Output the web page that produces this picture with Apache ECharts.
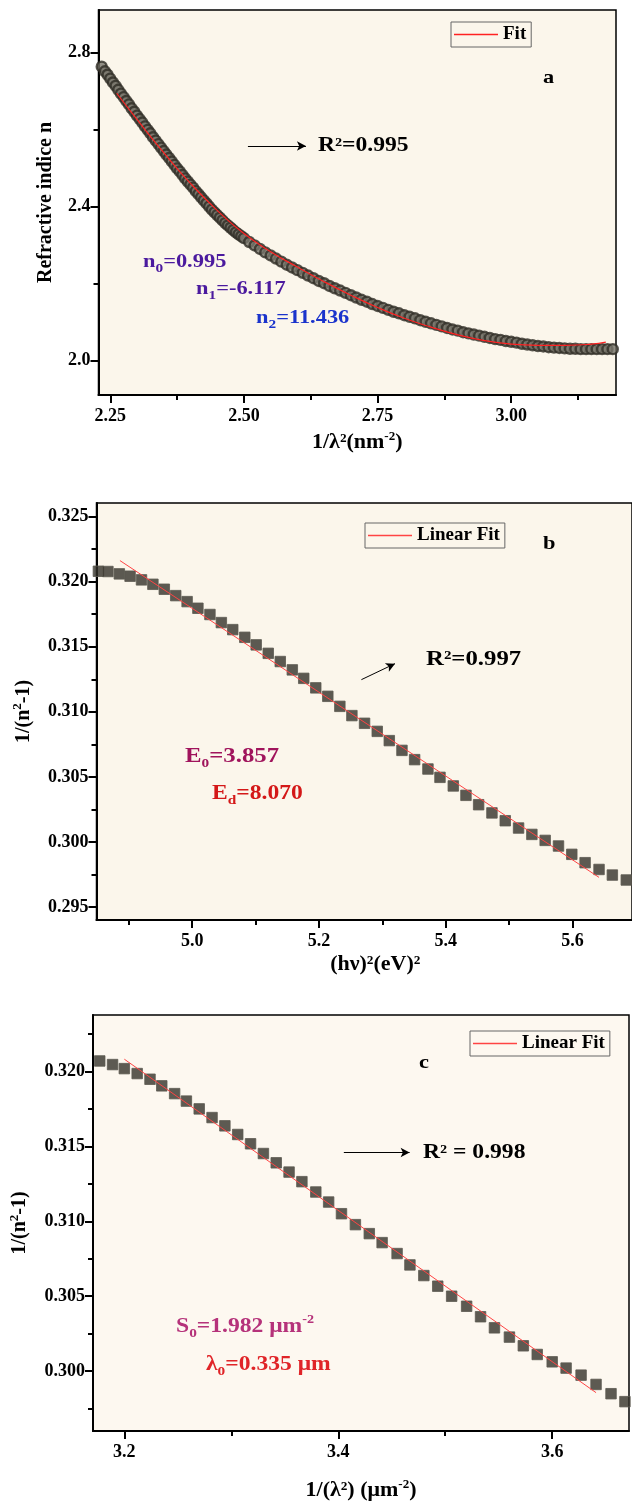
<!DOCTYPE html>
<html>
<head>
<meta charset="UTF-8">
<title>Refractive index dispersion</title>
<script src="https://cdn.jsdelivr.net/npm/echarts@6/dist/echarts.min.js"></script>
<style>
  body { margin: 0; background: #fff; }
  #chart { width: 632px; height: 1502px; }
</style>
</head>
<body>
<div id="chart"></div>
<script>
// panel a: n against 1/lambda^2
var aX = [2.234, 2.24, 2.245, 2.25, 2.255, 2.26, 2.265, 2.27, 2.275, 2.28, 2.285, 2.29, 2.295, 2.30, 2.305, 2.31,
  2.315, 2.32, 2.325, 2.33, 2.335, 2.34, 2.345, 2.35, 2.355, 2.36, 2.365, 2.37, 2.375, 2.38, 2.385, 2.39, 2.395,
  2.40, 2.405, 2.41, 2.415, 2.42, 2.425, 2.43, 2.435, 2.44, 2.445, 2.45, 2.455, 2.46, 2.465, 2.47, 2.475, 2.48,
  2.485, 2.49, 2.495, 2.50, 2.51, 2.52, 2.53, 2.54, 2.55, 2.56, 2.57, 2.58, 2.59, 2.60, 2.61, 2.62, 2.63, 2.64,
  2.65, 2.66, 2.67, 2.68, 2.69, 2.70, 2.71, 2.72, 2.73, 2.74, 2.75, 2.76, 2.77, 2.78, 2.79, 2.80, 2.81, 2.82,
  2.83, 2.84, 2.85, 2.86, 2.87, 2.88, 2.89, 2.90, 2.91, 2.92, 2.93, 2.94, 2.95, 2.96, 2.97, 2.98, 2.99, 3.00,
  3.01, 3.02, 3.03, 3.04, 3.05, 3.06, 3.07, 3.08, 3.09, 3.10, 3.11, 3.12, 3.13, 3.14, 3.15, 3.16, 3.17, 3.18, 3.19];
var aN = [2.763, 2.751, 2.742, 2.732, 2.722, 2.713, 2.703, 2.693, 2.684, 2.674, 2.665, 2.655, 2.646, 2.636, 2.627, 2.618,
  2.608, 2.599, 2.590, 2.580, 2.571, 2.562, 2.553, 2.544, 2.535, 2.526, 2.517, 2.508, 2.499, 2.491, 2.482, 2.473, 2.465,
  2.457, 2.449, 2.440, 2.432, 2.424, 2.416, 2.408, 2.400, 2.392, 2.385, 2.378, 2.371, 2.364, 2.357, 2.351, 2.345, 2.339,
  2.333, 2.328, 2.323, 2.318, 2.308, 2.299, 2.290, 2.281, 2.273, 2.265, 2.257, 2.249, 2.242, 2.235, 2.228, 2.221, 2.214, 2.207,
  2.201, 2.194, 2.188, 2.182, 2.176, 2.170, 2.164, 2.158, 2.153, 2.147, 2.142, 2.137, 2.132, 2.127, 2.123, 2.118, 2.114, 2.110,
  2.105, 2.101, 2.097, 2.093, 2.089, 2.085, 2.081, 2.078, 2.074, 2.071, 2.068, 2.065, 2.062, 2.059, 2.056, 2.054, 2.051, 2.049,
  2.047, 2.044, 2.042, 2.040, 2.038, 2.037, 2.035, 2.034, 2.033, 2.032, 2.031, 2.031, 2.030, 2.030, 2.030, 2.030, 2.030, 2.030, 2.030];
var aFitX = [2.262, 2.30, 2.35, 2.40, 2.45, 2.50, 2.55, 2.60, 2.65, 2.70, 2.75, 2.80, 2.85, 2.90, 2.95, 3.00, 3.05, 3.10, 3.15, 3.177];
var aFitN = [2.694, 2.626, 2.540, 2.460, 2.390, 2.330, 2.283, 2.243, 2.205, 2.170, 2.138, 2.110, 2.087, 2.067, 2.052, 2.043, 2.040, 2.040, 2.043, 2.048];
var aXTicks = [2.25, 2.50, 2.75, 3.00];
var aXMinor = [2.375, 2.625, 2.875, 3.125];
var aYTicks = [2.0, 2.4, 2.8];
var aYMinor = [2.2, 2.6];

// panel b: 1/(n^2-1) against (h nu)^2
var bX = [4.852, 4.867, 4.885, 4.902, 4.920, 4.938, 4.956, 4.974, 4.992, 5.009, 5.028, 5.046, 5.064, 5.083, 5.101,
  5.120, 5.139, 5.158, 5.176, 5.195, 5.214, 5.233, 5.252, 5.272, 5.292, 5.311, 5.331, 5.351, 5.372, 5.391,
  5.412, 5.432, 5.452, 5.473, 5.494, 5.515, 5.536, 5.557, 5.578, 5.599, 5.620, 5.642, 5.663, 5.685];
var bY = [0.32079, 0.32077, 0.32059, 0.32041, 0.32013, 0.31979, 0.31941, 0.31892, 0.31846, 0.31795, 0.31747, 0.31685, 0.31631, 0.31572, 0.31514,
  0.31449, 0.31386, 0.31322, 0.31257, 0.31184, 0.31119, 0.31042, 0.30971, 0.30912, 0.30850, 0.30779, 0.30704, 0.30633, 0.30561, 0.30497,
  0.30431, 0.30359, 0.30287, 0.30224, 0.30164, 0.30108, 0.30059, 0.30013, 0.29970, 0.29906, 0.29842, 0.29790, 0.29747, 0.29709];
var bFitX = [4.886, 5.642];
var bFitY = [0.32161, 0.29729];
var bXTicks = [5.0, 5.2, 5.4, 5.6];
var bXMinor = [4.9, 5.1, 5.3, 5.5];
var bYTicks = [0.295, 0.300, 0.305, 0.310, 0.315, 0.320, 0.325];
var bYMinor = [0.2975, 0.3025, 0.3075, 0.3125, 0.3175, 0.3225];

// panel c: 1/(n^2-1) against 1/lambda^2
var cX = [3.177, 3.189, 3.200, 3.212, 3.224, 3.235, 3.247, 3.258, 3.270, 3.282, 3.294, 3.306, 3.318, 3.330, 3.342,
  3.354, 3.366, 3.379, 3.391, 3.403, 3.416, 3.429, 3.441, 3.455, 3.467, 3.480, 3.493, 3.506, 3.520, 3.533,
  3.546, 3.560, 3.573, 3.586, 3.600, 3.613, 3.627, 3.641, 3.655, 3.668];
var cY = [0.32071, 0.32047, 0.32020, 0.31987, 0.31949, 0.31905, 0.31853, 0.31803, 0.31751, 0.31693, 0.31638, 0.31580, 0.31518, 0.31453, 0.31391,
  0.31329, 0.31265, 0.31196, 0.31129, 0.31051, 0.30978, 0.30918, 0.30858, 0.30785, 0.30709, 0.30638, 0.30567, 0.30500, 0.30433, 0.30363,
  0.30289, 0.30227, 0.30169, 0.30111, 0.30062, 0.30020, 0.29973, 0.29911, 0.29849, 0.29796];
var cFitX = [3.200, 3.641];
var cFitY = [0.32083, 0.29856];
var cXTicks = [3.2, 3.4, 3.6];
var cXMinor = [3.3, 3.5];
var cYTicks = [0.300, 0.305, 0.310, 0.315, 0.320];
var cYMinor = [0.2975, 0.3025, 0.3075, 0.3125, 0.3175, 0.3225];

var FONT = "'Liberation Serif', 'Times New Roman', serif";
var chart = echarts.init(document.getElementById('chart'));

function pairs(xs, ys) {
  return xs.map(function (x, i) { return [x, ys[i]]; });
}

// main axis with labels + major ticks, and a bare one for minor ticks
function mainAxis(dim, grid, min, max, ticks, digits, name, gap, extra) {
  var ax = {
    type: 'value', gridIndex: grid, min: min, max: max,
    position: dim === 'x' ? 'bottom' : 'left',
    axisLine: { show: true, onZero: false, lineStyle: { color: '#000', width: 2 } },
    axisTick: { show: true, customValues: ticks, length: 8, lineStyle: { color: '#000', width: 2 } },
    axisLabel: {
      show: true, customValues: ticks, margin: dim === 'x' ? 12 : 8, color: '#000',
      fontFamily: FONT, fontWeight: 'bold', fontSize: 18,
      formatter: function (v) { return v.toFixed(digits); }
    },
    splitLine: { show: false },
    name: name, nameLocation: 'middle', nameGap: gap,
    nameTextStyle: {
      color: '#000', fontFamily: FONT, fontWeight: 'bold', fontSize: dim === 'x' ? 22 : 20,
      rich: {
        t: { fontFamily: FONT, fontWeight: 'bold', fontSize: dim === 'x' ? 22 : 20, color: '#000' },
        p: { fontFamily: FONT, fontWeight: 'bold', fontSize: 13, color: '#000', verticalAlign: 'top', lineHeight: 24 }
      }
    }
  };
  if (dim === 'y') ax.nameRotate = 90;
  if (extra) Object.assign(ax.nameTextStyle, extra);
  return ax;
}
function minorAxis(dim, grid, min, max, ticks) {
  return {
    type: 'value', gridIndex: grid, min: min, max: max,
    position: dim === 'x' ? 'bottom' : 'left',
    axisLine: { show: false, onZero: false },
    axisTick: { show: true, customValues: ticks, length: 5, lineStyle: { color: '#000', width: 2 } },
    axisLabel: { show: false },
    splitLine: { show: false }
  };
}

var labelStyle = function (color, size) {
  return {
    n: { fontFamily: FONT, fontWeight: 'bold', fontSize: size, fill: color, verticalAlign: 'middle', lineHeight: 26 },
    s: { fontFamily: FONT, fontWeight: 'bold', fontSize: 13, fill: color, verticalAlign: 'bottom', lineHeight: 14 },
    p: { fontFamily: FONT, fontWeight: 'bold', fontSize: 12, fill: color, verticalAlign: 'top', lineHeight: 14 }
  };
};
// the reference lettering is drawn wide, hence the horizontal stretch
function note(x, y, text, color, size, sx) {
  return {
    type: 'text', x: x, y: y, z: 50, scaleX: sx || 1.18,
    style: { text: text, fill: color, verticalAlign: 'middle', rich: labelStyle(color, size || 20) }
  };
}

var scatterSquare = {
  color: '#34322a', borderColor: '#5c5a51', borderWidth: 1
};
var legendBase = {
  padding: [3, 5, 3, 3], itemWidth: 44, itemHeight: 1.5, icon: 'rect',
  borderColor: '#666', borderWidth: 1, selectedMode: false,
  textStyle: { fontFamily: FONT, fontWeight: 'bold', fontSize: 19, color: '#000' }
};

var option = {
  animation: false,
  grid: [
    { left: 98.5, top: 10, width: 517.5, height: 385, show: true, backgroundColor: '#fbf6eb', borderColor: '#000', borderWidth: 1.5 },
    { left: 96.5, top: 503, width: 535.5, height: 417, show: true, backgroundColor: '#fbf6eb', borderColor: '#000', borderWidth: 1.5 },
    { left: 91.5, top: 1015, width: 537.5, height: 417, show: true, backgroundColor: '#fdf8f0', borderColor: '#000', borderWidth: 1.5 }
  ],
  xAxis: [
    mainAxis('x', 0, 2.228, 3.196, aXTicks, 2, '{t|1/λ²(nm}{p|-2}{t|)}', 35),
    minorAxis('x', 0, 2.228, 3.196, aXMinor),
    mainAxis('x', 1, 4.849, 5.694, bXTicks, 1, '(hν)²(eV)²', 33, { padding: [0, 0, 0, 22] }),
    minorAxis('x', 1, 4.849, 5.694, bXMinor),
    mainAxis('x', 2, 3.1707, 3.6718, cXTicks, 1, '{t|1/(λ²) (μm}{p|-2}{t|)}', 47),
    minorAxis('x', 2, 3.1707, 3.6718, cXMinor)
  ],
  yAxis: [
    mainAxis('y', 0, 1.911, 2.91, aYTicks, 1, 'Refractive indice n', 43),
    minorAxis('y', 0, 1.911, 2.91, aYMinor),
    mainAxis('y', 1, 0.29402, 0.32603, bYTicks, 3, '{t|1/(n}{p|2}{t|-1)}', 61),
    minorAxis('y', 1, 0.29402, 0.32603, bYMinor),
    mainAxis('y', 2, 0.2960, 0.32378, cYTicks, 3, '{t|1/(n}{p|2}{t|-1)}', 61),
    minorAxis('y', 2, 0.2960, 0.32378, cYMinor)
  ],
  legend: [
    Object.assign({ left: 451, top: 22, data: ['Fit'] }, legendBase),
    Object.assign({ left: 365, top: 523, data: ['Linear Fit'] }, legendBase),
    Object.assign({ left: 470, top: 1031, data: ['Linear Fit'] }, legendBase)
  ],
  series: [
    {
      name: 'n', type: 'scatter', xAxisIndex: 0, yAxisIndex: 0,
      data: pairs(aX, aN), symbol: 'circle', symbolSize: 10,
      itemStyle: { color: '#77746a', borderColor: '#2f2d26', borderWidth: 2.4 },
      markLine: {
        silent: true, symbol: ['none', 'arrow'], symbolSize: [7, 9], label: { show: false },
        lineStyle: { color: '#000', width: 1, type: 'solid' },
        data: [[{ coord: [2.5075, 2.557] }, { coord: [2.616, 2.557] }]]
      }
    },
    {
      name: 'Fit', type: 'line', xAxisIndex: 0, yAxisIndex: 0, data: pairs(aFitX, aFitN),
      symbol: 'none', smooth: true, lineStyle: { color: '#f22', width: 1.2 }, itemStyle: { color: '#f22' }, z: 5
    },
    {
      name: 'b data', type: 'scatter', xAxisIndex: 2, yAxisIndex: 2,
      data: pairs(bX, bY), symbol: 'rect', symbolSize: 10.5, itemStyle: scatterSquare,
      markLine: {
        silent: true, symbol: ['none', 'arrow'], symbolSize: [7, 9], label: { show: false },
        lineStyle: { color: '#000', width: 1, type: 'solid' },
        data: [[{ coord: [5.267, 0.31247] }, { coord: [5.320, 0.31370] }]]
      }
    },
    {
      name: 'Linear Fit', type: 'line', xAxisIndex: 2, yAxisIndex: 2, data: pairs(bFitX, bFitY),
      symbol: 'none', lineStyle: { color: '#f44', width: 1 }, itemStyle: { color: '#f44' }, z: 5
    },
    {
      name: 'c data', type: 'scatter', xAxisIndex: 4, yAxisIndex: 4,
      data: pairs(cX, cY), symbol: 'rect', symbolSize: 10.5, itemStyle: scatterSquare,
      markLine: {
        silent: true, symbol: ['none', 'arrow'], symbolSize: [7, 9], label: { show: false },
        lineStyle: { color: '#000', width: 1, type: 'solid' },
        data: [[{ coord: [3.4052, 0.3146] }, { coord: [3.4667, 0.3146] }]]
      }
    },
    {
      name: 'Linear Fit', type: 'line', xAxisIndex: 4, yAxisIndex: 4, data: pairs(cFitX, cFitY),
      symbol: 'none', lineStyle: { color: '#f44', width: 1 }, itemStyle: { color: '#f44' }, z: 5
    }
  ],
  graphic: [
    note(318, 146, '{n|R²=0.995}', '#000', 20),
    note(143, 262, '{n|n}{s|0}{n|=0.995}', '#4b1a9e', 19),
    note(196, 289, '{n|n}{s|1}{n|=-6.117}', '#4b1a9e', 19),
    note(256, 318, '{n|n}{s|2}{n|=11.436}', '#1a33cc', 19),
    note(543, 78, '{n|a}', '#000', 19),

    note(426, 660, '{n|R²=0.997}', '#000', 21),
    note(185, 757, '{n|E}{s|0}{n|=3.857}', '#a0145c', 21),
    note(212, 794, '{n|E}{s|d}{n|=8.070}', '#d41818', 20),
    note(543, 544, '{n|b}', '#000', 19),

    note(423, 1153, '{n|R² = 0.998}', '#000', 20),
    note(176, 1327, '{n|S}{s|0}{n|=1.982 μm}{p|-2}', '#b5327a', 20),
    note(206, 1365, '{n|λ}{s|0}{n|=0.335 μm}', '#e02428', 20),
    note(419, 1063, '{n|c}', '#000', 19)
  ]
};

chart.setOption(option);
</script>
</body>
</html>
